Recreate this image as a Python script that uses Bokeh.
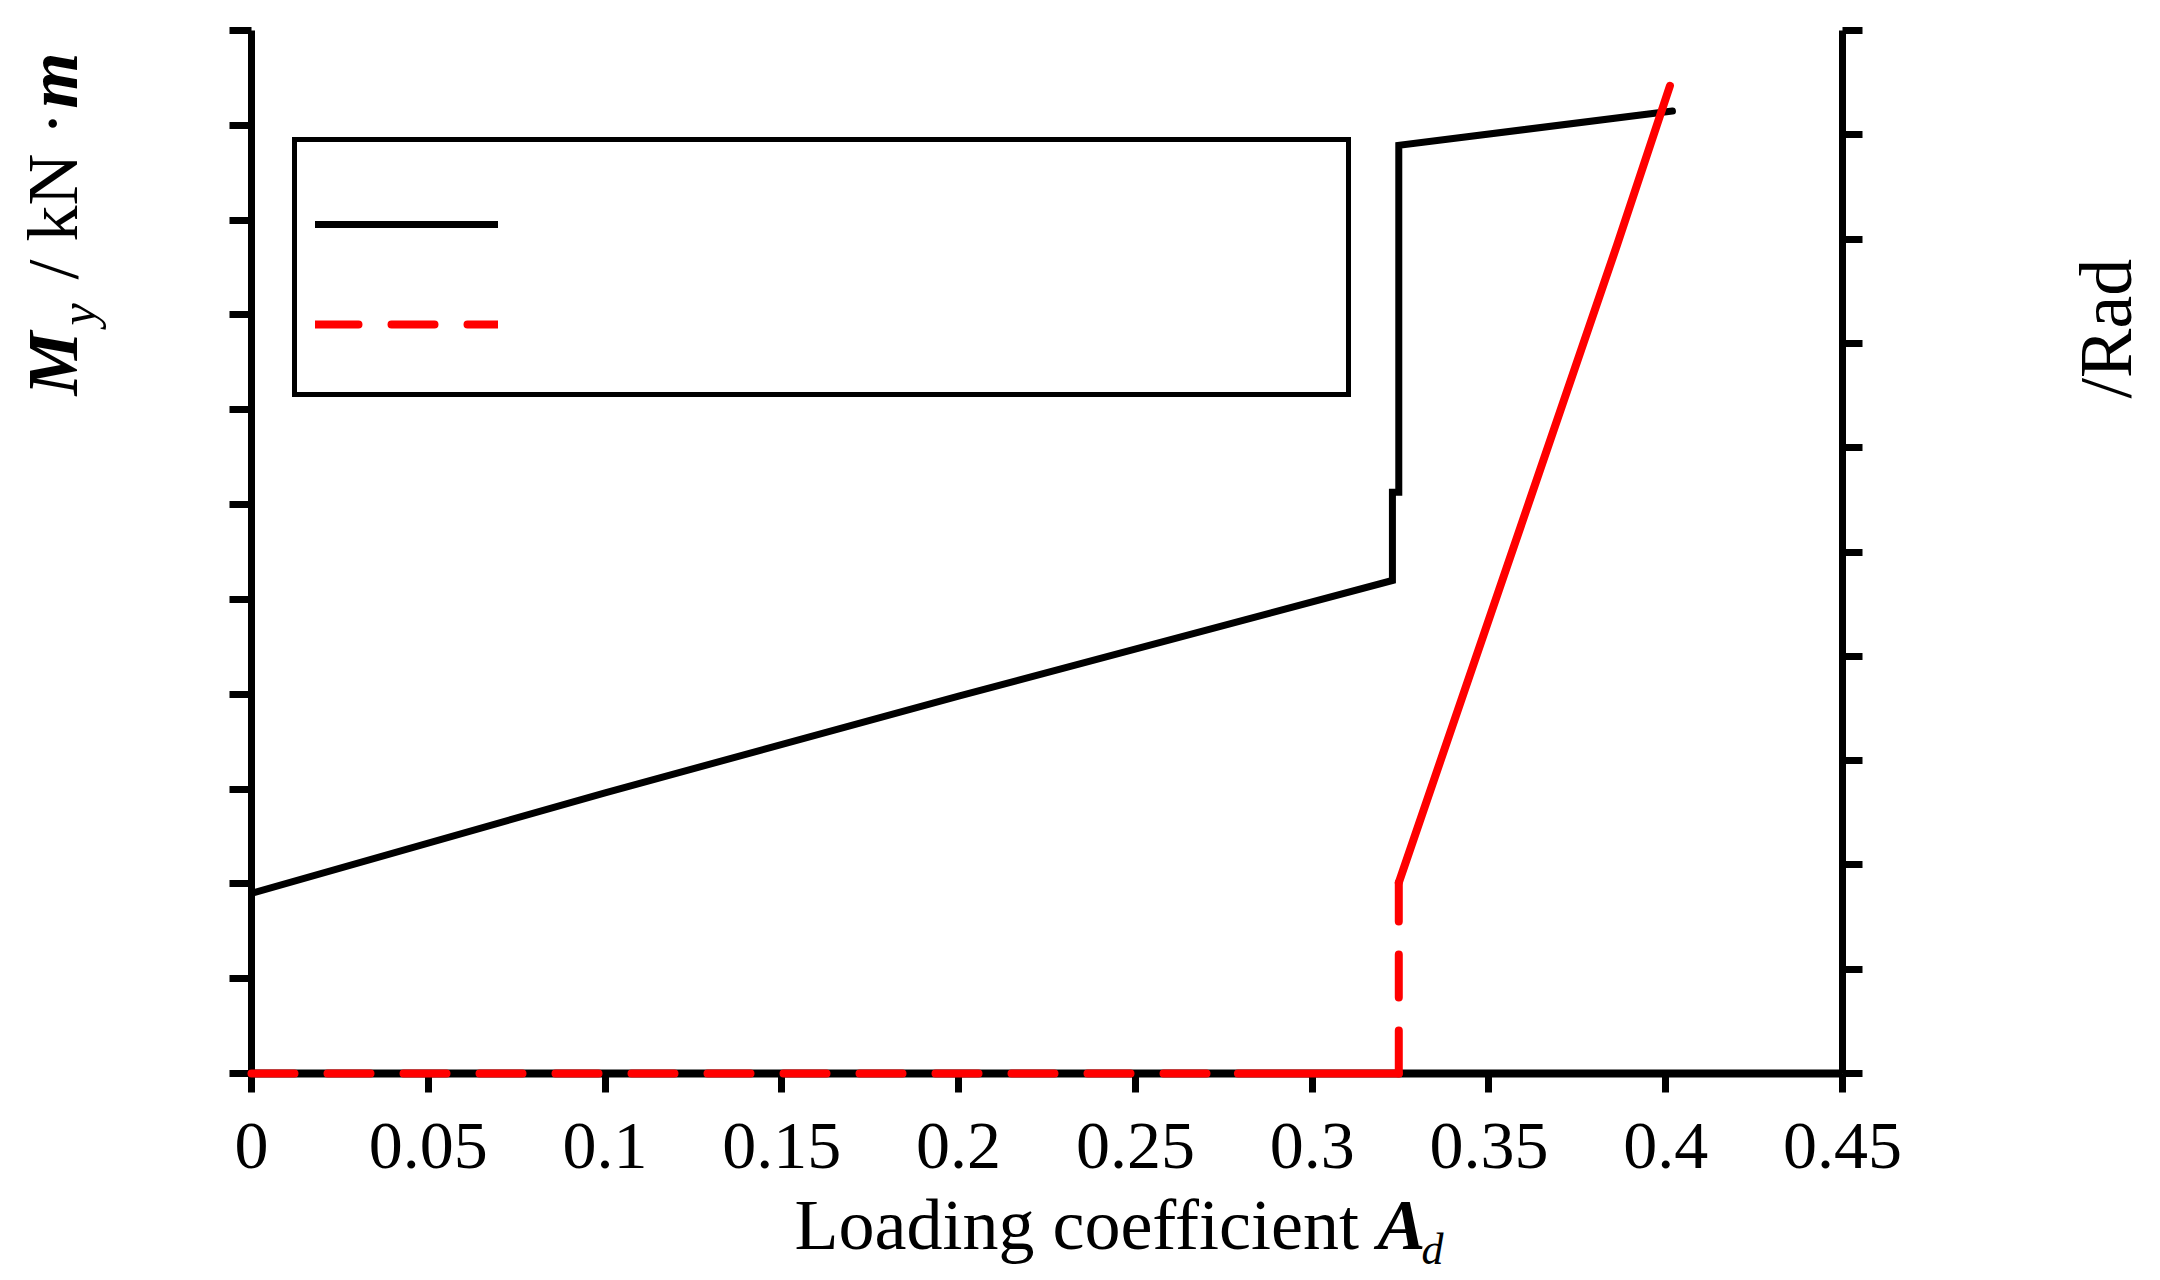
from math import pi
from bokeh.plotting import figure
from bokeh.models import (Range1d, LinearAxis, FixedTicker, CustomJSTickFormatter,
                          Legend, LegendItem, GridBox)
from bokeh.core.properties import value
from bokeh.embed import file_html
from bokeh.resources import INLINE

# ---------------- data ----------------
# Moment M_y (left axis) vs loading coefficient
mom_x = [0.0, 0.1, 0.2, 0.3227, 0.3227, 0.3245, 0.3245, 0.4019]
mom_y = [19.0, 29.6, 39.8, 52.0, 61.3, 61.3, 97.9, 101.5]

# Rotation (right axis, Rad) vs loading coefficient
rot_x = [0.0, 0.279, 0.3245, 0.3245, 0.3547, 0.3863, 0.4012]
rot_y = [0.0, 0.0, 0.0, 1.83, 4.82, 7.95, 9.47]

x_ticks = [0, 0.05, 0.1, 0.15, 0.2, 0.25, 0.3, 0.35, 0.4, 0.45]
x_tick_labels = ["0", "0.05", "0.1", "0.15", "0.2", "0.25", "0.3", "0.35", "0.4", "0.45"]
left_ticks = [0, 10, 20, 30, 40, 50, 60, 70, 80, 90, 100, 110]
right_ticks = [0, 1, 2, 3, 4, 5, 6, 7, 8, 9, 10]

FONT = "Liberation Serif"
W, H = 2152, 1278

p = figure(width=W, height=H, x_range=Range1d(0, 0.45), y_range=Range1d(0, 110),
           output_backend="svg", toolbar_location=None,
           min_border_left=251, min_border_right=W - 1842, min_border_top=30,
           min_border_bottom=H - 1073)
p.frame_align = False
p.extra_y_ranges = {"rot": Range1d(0, 10)}
p.outline_line_color = None
p.xgrid.visible = False
p.ygrid.visible = False
p.background_fill_color = "white"
p.border_fill_color = "white"

empty = CustomJSTickFormatter(code="return ''")

def style_axis(ax, lw, tick_out):
    ax.axis_line_width = lw
    ax.axis_line_color = "black"
    ax.major_tick_line_width = 7
    ax.major_tick_line_color = "black"
    ax.major_tick_out = tick_out
    ax.major_tick_in = 0
    ax.minor_tick_line_color = None

xa = p.xaxis[0]
xa.ticker = FixedTicker(ticks=x_ticks)
xa.major_label_overrides = dict(zip(x_ticks, x_tick_labels))
xa.major_label_text_font = FONT
xa.major_label_text_font_size = "68px"
xa.major_label_text_color = "black"
xa.major_label_standoff = 31
style_axis(xa, 8, 19)

ya = p.yaxis[0]
ya.ticker = FixedTicker(ticks=left_ticks)
ya.formatter = empty
style_axis(ya, 7, 22)

ra = LinearAxis(y_range_name="rot", ticker=FixedTicker(ticks=right_ticks), formatter=empty)
style_axis(ra, 7, 20)
p.add_layout(ra, "right")

# ---------------- series ----------------
black_r = p.line(mom_x, mom_y, line_color="black", line_width=7,
                 line_join="miter", line_cap="round")

RED = "#ff0000"
DASH = "43 33"
red_a = p.line(rot_x[0:2], rot_y[0:2], y_range_name="rot", line_color=RED, line_width=8,
               line_dash=DASH, line_cap="round", level="overlay")
red_b = p.line(rot_x[1:3], rot_y[1:3], y_range_name="rot", line_color=RED, line_width=8,
               line_cap="round", level="overlay")
red_c = p.line(rot_x[2:4], rot_y[2:4], y_range_name="rot", line_color=RED, line_width=8,
               line_dash=DASH, line_cap="round", level="overlay")
red_d = p.line(rot_x[3:], rot_y[3:], y_range_name="rot", line_color=RED, line_width=8,
               line_cap="round", line_join="round", level="overlay")

legend = Legend(items=[LegendItem(label=" ", renderers=[black_r]),
                       LegendItem(label=" ", renderers=[red_a])],
                location=(41, 676), padding=18, spacing=0, margin=0,
                title=" ", title_text_font_size="12px", title_standoff=0,
                glyph_width=183, glyph_height=100, label_height=100, label_width=820,
                label_standoff=10, label_text_font_size="10px",
                border_line_width=5, border_line_color="black", border_line_alpha=1,
                background_fill_color="white", background_fill_alpha=1)
p.add_layout(legend)

# ---------------- axis titles (transparent overlay, pixel coordinates) ----------------
t = figure(width=W, height=H, x_range=Range1d(0, W), y_range=Range1d(0, H),
           output_backend="svg", toolbar_location=None, x_axis_type=None, y_axis_type=None,
           min_border=0)
t.frame_align = False
t.outline_line_color = None
t.background_fill_color = None
t.border_fill_color = None

SHIFT = 0.31  # baseline correction, fraction of font size

def txt(s, x, y_top, size, style="normal", rotated=False):
    if rotated:
        x = x - SHIFT * size
    else:
        y_top = y_top - SHIFT * size
    t.text(x=[x], y=[H - y_top], text=[s], angle=(pi / 2 if rotated else 0.0),
           text_font=value(FONT), text_font_size=value(f"{size}px"),
           text_font_style=value(style), text_color="black",
           text_align="left", text_baseline="alphabetic")

# left: M_y / kN·m
txt("M", 75, 395, 72, "bold italic", True)
txt("y", 93, 325, 50, "italic", True)
txt("/ kN ·", 75, 279, 72, "normal", True)
txt("m", 75, 108, 72, "bold italic", True)
# right: /Rad
txt("/Rad", 2128, 398, 74, "normal", True)
# bottom: Loading coefficient A_d
txt("Loading coefficient", 794, 1247, 72)
txt("A", 1377, 1247, 72, "bold italic")
txt("d", 1421, 1263, 44, "italic")

layout = GridBox(children=[(p, 0, 0), (t, 0, 0)])
open("out.html", "w").write(file_html(layout, INLINE))
